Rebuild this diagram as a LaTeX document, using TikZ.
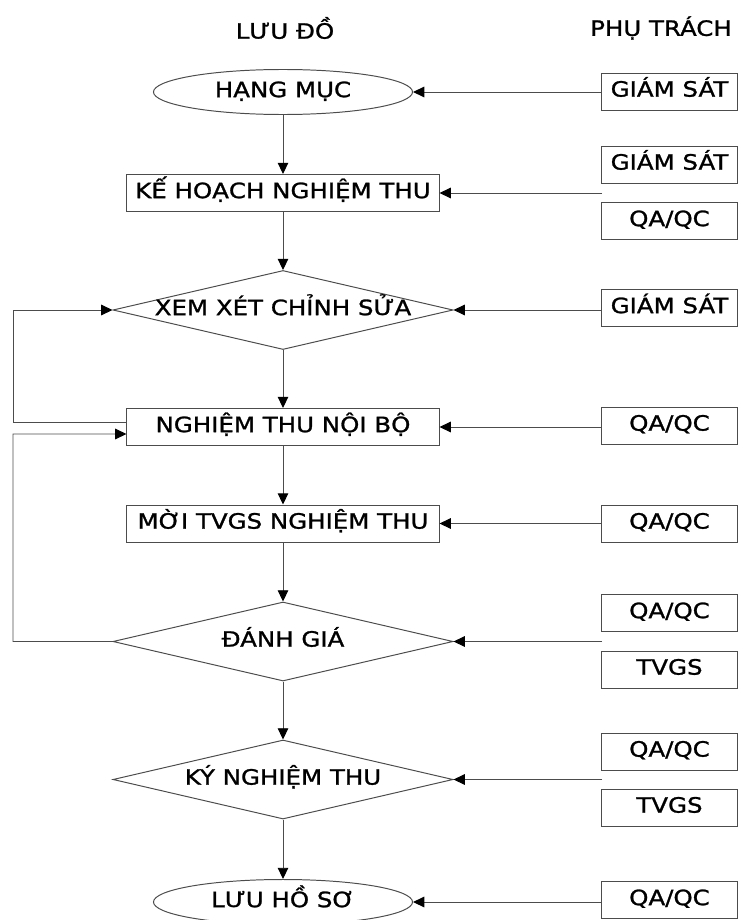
\documentclass[tikz,border=0pt]{standalone}
\usepackage{fontspec}
\setmainfont{DejaVu Sans}[FakeStretch=1.16, FakeBold=1.2]
\usepackage{tikz}
\usetikzlibrary{arrows.meta,positioning,shapes.geometric}

\begin{document}
\begin{tikzpicture}[x=0.025cm, y=-0.025cm,
			font=\fontsize{15}{17}\selectfont,
			line/.style={draw=black!70, line width=0.7pt},
			arr/.style={line, -{Triangle[length=8pt, width=7.5pt, color=black]}},
			txt/.style={text height=0.98em, text depth=0.25em, inner sep=0pt},
			term/.style={ellipse, line, fill=white, txt, minimum width=6.475cm, minimum height=1.125cm},
			proc/.style={rectangle, line, fill=white, txt, minimum width=7.8cm, minimum height=0.925cm},
			dec/.style={diamond, line, fill=white, txt, aspect=4.3, minimum width=8.5cm, minimum height=1.975cm},
			role/.style={rectangle, line, fill=white, txt, minimum width=3.375cm, minimum height=0.925cm}
		]
		\useasboundingbox (0,0) rectangle (746,920);

		% Column headings
		\node (hflow) at (285,28) {LƯU ĐỒ};
		\node (hrole) at (661,28) {PHỤ TRÁCH};

		% Flow chart
		\node[term] (n1) at (283,92)    {HẠNG MỤC};
		\node[proc] (n2) at (283,193)   {KẾ HOẠCH NGHIỆM THU};
		\node[dec]  (n3) at (283,310)   {XEM XÉT CHỈNH SỬA};
		\node[proc] (n4) at (283,427)   {NGHIỆM THU NỘI BỘ};
		\node[proc] (n5) at (283,523.5) {MỜI TVGS NGHIỆM THU};
		\node[dec]  (n6) at (283,641.5) {ĐÁNH GIÁ};
		\node[dec]  (n7) at (283,779.5) {KÝ NGHIỆM THU};
		\node[term] (n8) at (283,902)   {LƯU HỒ SƠ};

		\foreach \a/\b in {n1/n2, n2/n3, n3/n4, n4/n5, n5/n6, n6/n7, n7/n8}
			\draw[arr] (\a) -- (\b);

		% Return loops
		\coordinate (loopA) at (13,310);
		\coordinate (loopB) at (13,434);
		\draw[arr] ([yshift=0.125cm]n4.west) -| (loopA) -- (n3.west);
		\draw[arr] (n6.west) -| (loopB) -- ([yshift=-0.175cm]n4.west);

		% Responsible parties
		\node[role] (r1)  at (669.5,91.5)  {GIÁM SÁT};
		\node[role] (r2a) at (669.5,164.5) {GIÁM SÁT};
		\node[role] (r2b) at (669.5,221)   {QA/QC};
		\node[role] (r3)  at (669.5,308)   {GIÁM SÁT};
		\node[role] (r4)  at (669.5,425.5) {QA/QC};
		\node[role] (r5)  at (669.5,523.5) {QA/QC};
		\node[role] (r6a) at (669.5,613)   {QA/QC};
		\node[role] (r6b) at (669.5,669.5) {TVGS};
		\node[role] (r7a) at (669.5,751.5) {QA/QC};
		\node[role] (r7b) at (669.5,807.5) {TVGS};
		\node[role] (r8)  at (669.5,900)   {QA/QC};

		% Arrows from the right column
		\coordinate (c2) at (602,193);
		\coordinate (c6) at (602,641.5);
		\coordinate (c7) at (602,779.5);
		\draw[arr] (r1.west |- n1) -- (n1.east);
		\draw[arr] (c2) -- (n2.east);
		\draw[arr] (r3.west |- n3) -- (n3.east);
		\draw[arr] (r4.west |- n4) -- (n4.east);
		\draw[arr] (r5.west |- n5) -- (n5.east);
		\draw[arr] (c6) -- (n6.east);
		\draw[arr] (c7) -- (n7.east);
		\draw[arr] (r8.west |- n8) -- (n8.east);
	\end{tikzpicture}
\end{document}
